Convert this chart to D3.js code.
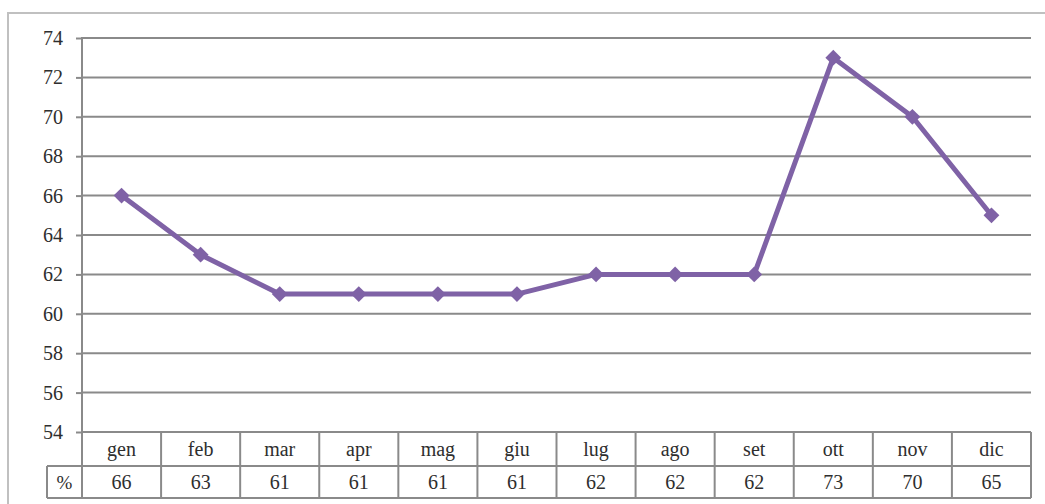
<!DOCTYPE html>
<html>
<head>
<meta charset="utf-8">
<script src="https://cdn.jsdelivr.net/npm/d3@7"></script>
<style>
  html, body { margin: 0; padding: 0; background: #fff; }
  svg { display: block; }
</style>
</head>
<body>
<svg id="chart" width="1045" height="504"></svg>
<script>
// Monthly percentages
const months = ["gen", "feb", "mar", "apr", "mag", "giu", "lug", "ago", "set", "ott", "nov", "dic"];
const values = [66, 63, 61, 61, 61, 61, 62, 62, 62, 73, 70, 65];
const yTicks = [54, 56, 58, 60, 62, 64, 66, 68, 70, 72, 74];
const seriesLabel = "%";

(function draw() {
const svg = d3.select("#chart");
const W = 1045, H = 504;
const FONT = "Liberation Serif";
const TEXT_COLOR = "#2e2e2e";

// plot geometry
const plotLeft = 82, plotRight = 1031, plotTop = 38, plotBottom = 432;
const rowH1 = 34, rowH2 = 32;     // category row / value row heights
const keyLeft = 47;               // left edge of the "%" key cell

const x = d3.scaleBand().domain(months).range([plotLeft, plotRight]).paddingInner(0).paddingOuter(0);
const y = d3.scaleLinear().domain([54, 74]).range([plotBottom, plotTop]);

// outer frame
svg.append("rect")
  .attr("x", 8).attr("y", 13)
  .attr("width", W + 20).attr("height", H + 20)
  .attr("fill", "none").attr("stroke", "#c0c0c0").attr("stroke-width", 2);

// y axis with tick labels
const yAxis = d3.axisLeft(y).tickValues(yTicks).tickSize(6).tickPadding(13).tickFormat(d3.format("d"));
const gy = svg.append("g").attr("transform", `translate(${plotLeft},0)`).call(yAxis);
gy.attr("font-family", FONT);
gy.select(".domain").remove();
gy.selectAll(".tick line").attr("stroke", "#8a8a8a").attr("stroke-width", 2);
gy.selectAll(".tick text")
  .attr("font-family", FONT)
  .attr("font-size", 20)
  .attr("fill", TEXT_COLOR);

// horizontal gridlines
svg.append("g").selectAll("line.grid")
  .data(yTicks)
  .join("line")
  .attr("class", "grid")
  .attr("x1", plotLeft).attr("x2", plotRight)
  .attr("y1", d => y(d)).attr("y2", d => y(d))
  .attr("stroke", "#8a8a8a").attr("stroke-width", 2);

// data table below the plot
const tableStroke = "#8a8a8a";
const t = svg.append("g");
const row1Top = plotBottom, row2Top = plotBottom + rowH1, row2Bottom = row2Top + rowH2;

t.append("line").attr("x1", keyLeft).attr("x2", plotRight).attr("y1", row2Top).attr("y2", row2Top)
  .attr("stroke", tableStroke).attr("stroke-width", 2);
t.append("line").attr("x1", keyLeft).attr("x2", plotRight).attr("y1", row2Bottom).attr("y2", row2Bottom)
  .attr("stroke", tableStroke).attr("stroke-width", 2);
t.append("line").attr("x1", keyLeft).attr("x2", keyLeft).attr("y1", row2Top).attr("y2", row2Bottom)
  .attr("stroke", tableStroke).attr("stroke-width", 2);

// column separators (the first one is the y axis line)
const edges = [plotLeft].concat(months.map(m => x(m) + x.bandwidth()));
t.selectAll("line.col")
  .data(edges)
  .join("line")
  .attr("class", "col")
  .attr("x1", d => d).attr("x2", d => d)
  .attr("y1", (d, i) => i === 0 ? plotTop - 1 : row1Top)
  .attr("y2", row2Bottom)
  .attr("stroke", tableStroke).attr("stroke-width", 2);

t.selectAll("text.cat")
  .data(months)
  .join("text")
  .attr("class", "cat")
  .attr("x", d => x(d) + x.bandwidth() / 2)
  .attr("y", row1Top + rowH1 / 2)
  .attr("dy", "0.35em")
  .attr("text-anchor", "middle")
  .attr("font-family", FONT)
  .attr("font-size", 20)
  .attr("fill", TEXT_COLOR)
  .text(d => d);

t.selectAll("text.val")
  .data(values)
  .join("text")
  .attr("class", "val")
  .attr("x", (d, i) => x(months[i]) + x.bandwidth() / 2)
  .attr("y", row2Top + rowH2 / 2)
  .attr("dy", "0.35em")
  .attr("text-anchor", "middle")
  .attr("font-family", FONT)
  .attr("font-size", 20)
  .attr("fill", TEXT_COLOR)
  .text(d => d);

t.append("text")
  .attr("x", (keyLeft + plotLeft) / 2)
  .attr("y", row2Top + rowH2 / 2)
  .attr("dy", "0.35em")
  .attr("text-anchor", "middle")
  .attr("font-family", FONT)
  .attr("font-size", 19)
  .attr("fill", TEXT_COLOR)
  .text(seriesLabel);

// series line with diamond markers
const purple = "#7f62a6";
const line = d3.line()
  .x((d, i) => x(months[i]) + x.bandwidth() / 2)
  .y(d => y(d));

svg.append("path")
  .datum(values)
  .attr("d", line)
  .attr("fill", "none")
  .attr("stroke", purple)
  .attr("stroke-width", 5)
  .attr("stroke-linejoin", "round");

svg.append("g").selectAll("path.mark")
  .data(values)
  .join("path")
  .attr("class", "mark")
  .attr("transform", (d, i) => `translate(${x(months[i]) + x.bandwidth() / 2},${y(d)})`)
  .attr("d", d3.symbol().type(d3.symbolDiamond2).size(160))
  .attr("fill", purple);
})();
</script>
</body>
</html>
